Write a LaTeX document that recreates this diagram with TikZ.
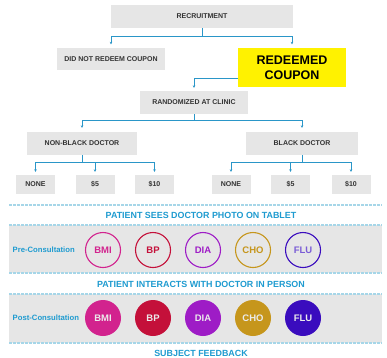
\documentclass[tikz,border=0pt]{standalone}
\usepackage{fontspec}
\setmainfont{Liberation Sans}
\usetikzlibrary{arrows.meta}
\definecolor{boxgray}{HTML}{E6E6E6}
\definecolor{darktxt}{HTML}{333333}
\definecolor{connblue}{HTML}{2A96C8}
\definecolor{titleblue}{HTML}{1E9BD0}
\definecolor{dashblue}{HTML}{A6D6E8}
\definecolor{cbmi}{HTML}{D2238E}
\definecolor{cbp}{HTML}{C4103A}
\definecolor{cdia}{HTML}{9E1CC6}
\definecolor{ccho}{HTML}{C6961C}
\definecolor{cflu}{HTML}{3A0CBE}
\definecolor{cflutxt}{HTML}{7A5CD6}
\tikzset{
  graybox/.style={fill=boxgray, draw=none, inner sep=0pt, font=\fontsize{7}{8}\selectfont\bfseries, text=darktxt},
  leafbox/.style={graybox, minimum width=39pt, minimum height=19pt},
  conn/.style={draw=connblue, line width=1pt},
  arr/.style={conn, -{Stealth[length=2.5pt,width=2.5pt]}},
  dline/.style={draw=dashblue, line width=1.6pt, dash pattern=on 3pt off 1pt},
  stitle/.style={font=\fontsize{8.9}{10}\selectfont\bfseries, text=titleblue},
  rowlbl/.style={font=\fontsize{7.7}{9}\selectfont\bfseries, text=titleblue},
  precirc/.style={circle, draw=#1, line width=1.1pt, minimum size=35pt, inner sep=0pt, font=\fontsize{9.5}{10}\selectfont\bfseries, text=#1},
  postcirc/.style={circle, fill=#1, draw=none, minimum size=36pt, inner sep=0pt, font=\fontsize{9.5}{10}\selectfont\bfseries, text=white!92!black},
}
\begin{document}
\begin{tikzpicture}[x=1pt,y=-1pt]
\useasboundingbox (0,0) rectangle (387,357);
\fill[white] (0,0) rectangle (387,357);

% tree nodes
\node[graybox, minimum width=182pt, minimum height=23pt] (rec) at (202,16.5) {RECRUITMENT};
\node[graybox, minimum width=108pt, minimum height=22pt] (dnr) at (111,59) {DID NOT REDEEM COUPON};
\node[fill=yellow, inner sep=0pt, minimum width=108pt, minimum height=39pt, align=center,
      font=\fontsize{12.5}{15}\selectfont\bfseries, text=black] (red) at (292,67.5) {REDEEMED\\COUPON};
\node[graybox, minimum width=108pt, minimum height=23pt] (rand) at (194,102.5) {RANDOMIZED AT CLINIC};
\node[graybox, minimum width=110pt, minimum height=23pt] (nb) at (82,143.5) {NON-BLACK DOCTOR};
\node[graybox, minimum width=112pt, minimum height=23pt] (bd) at (302,143.5) {BLACK DOCTOR};
\node[leafbox] (n1) at (35.5,184.5) {NONE};
\node[leafbox] (n2) at (95,184.5) {\$5};
\node[leafbox] (n3) at (154.5,184.5) {\$10};
\node[leafbox] (b1) at (231,184.5) {NONE};
\node[leafbox] (b2) at (290.5,184.5) {\$5};
\node[leafbox] (b3) at (351,184.5) {\$10};

% connectors
\draw[conn] (rec.south) -- ++(0,8) coordinate (j1);
\draw[arr, shorten >=3.5pt] (j1) -| (dnr.north);
\draw[arr, shorten >=3.5pt] (j1) -| (red.north);
\draw[arr, shorten >=3pt] (red.west |- 0,78) coordinate (j2) -| (rand.north);
\draw[conn] (rand.south) -- ++(0,6) coordinate (j3);
\draw[arr, shorten >=4pt] (j3) -| (nb.north);
\draw[arr, shorten >=4pt] (j3) -| (bd.north);
\draw[conn] (nb.south) -- ++(0,7) coordinate (j4);
\draw[arr, shorten >=3pt] (j4) -| (n1.north);
\draw[arr, shorten >=3pt] (j4) -| (n2.north);
\draw[arr, shorten >=3pt] (j4) -| (n3.north);
\draw[conn] (bd.south) -- ++(0,7) coordinate (j5);
\draw[arr, shorten >=3pt] (j5) -| (b1.north);
\draw[arr, shorten >=3pt] (j5) -| (b2.north);
\draw[arr, shorten >=3pt] (j5) -| (b3.north);

% bands
\fill[boxgray] (9,225) rectangle (382,273);
\fill[boxgray] (9,294) rectangle (382,343);
\draw[dline] (9,205) -- (382,205);
\draw[dline] (9,225) -- (382,225);
\draw[dline] (9,273) -- (382,273);
\draw[dline] (9,294) -- (382,294);
\draw[dline] (9,343) -- (382,343);

\node[stitle] (t1) at (201,215) {PATIENT SEES DOCTOR PHOTO ON TABLET};
\node[stitle] (t2) at (201,284) {PATIENT INTERACTS WITH DOCTOR IN PERSON};
\node[stitle] (t3) at (201,353) {SUBJECT FEEDBACK};

\node[rowlbl, anchor=west, inner sep=0pt] (pre) at (12.5,250) {Pre-Consultation};
\node[rowlbl, anchor=west, inner sep=0pt] (post) at (12.5,318) {Post-Consultation};

\node[precirc=cbmi] (p1) at (103,250) {BMI};
\node[precirc=cbp] (p2) at (153,250) {BP};
\node[precirc=cdia] (p3) at (203,250) {DIA};
\node[precirc=ccho] (p4) at (253,250) {CHO};
\node[precirc=cflu, text=cflutxt] (p5) at (303,250) {FLU};

\node[postcirc=cbmi] (q1) at (103,318) {BMI};
\node[postcirc=cbp] (q2) at (153,318) {BP};
\node[postcirc=cdia] (q3) at (203,318) {DIA};
\node[postcirc=ccho] (q4) at (253,318) {CHO};
\node[postcirc=cflu] (q5) at (303,318) {FLU};
\end{tikzpicture}
\end{document}
